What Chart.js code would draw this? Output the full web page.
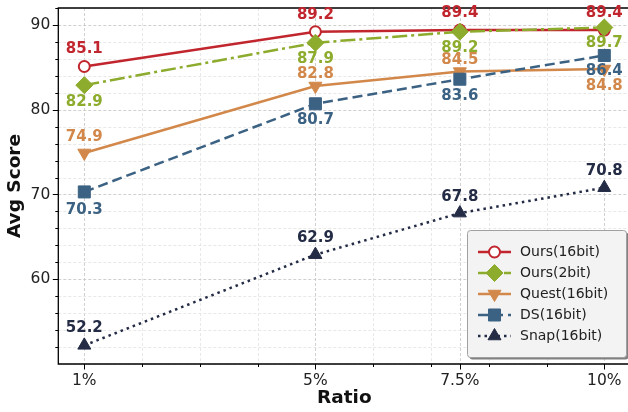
<!DOCTYPE html>
<html>
<head>
<meta charset="utf-8">
<script src="https://cdn.jsdelivr.net/npm/chart.js@4.4.1/dist/chart.umd.min.js"></script>
<style>
  html, body { margin: 0; padding: 0; background: #fff; overflow: hidden; }
  #wrap { width: 632px; height: 412px; position: relative; }
</style>
</head>
<body>
<div id="wrap"><canvas id="chart"></canvas></div>
<script>
// data
const ratios = [1, 5, 7.5, 10];
const xTickLabels = ["1%", "5%", "7.5%", "10%"];
const yTickLabels = [60, 70, 80, 90];
const seriesNames = ["Ours(16bit)", "Ours(2bit)", "Quest(16bit)", "DS(16bit)", "Snap(16bit)"];
const ours16 = [85.1, 89.2, 89.4, 89.4];
const ours2 = [82.9, 87.9, 89.2, 89.7];
const quest16 = [74.9, 82.8, 84.5, 84.8];
const ds16 = [70.3, 80.7, 83.6, 86.4];
const snap16 = [52.2, 62.9, 67.8, 70.8];

// style
const colors = ["#c1262e", "#8dab2c", "#d2884a", "#3c6283", "#232b45"];
const labelDy = [
  [-17, -17, -17, -17],
  [17, 16, 16, 16],
  [-16, -12, -11, 17],
  [18, 16, 17, 16],
  [-17, -17, -16, -17]
];
const FONT = "'DejaVu Sans', Verdana, sans-serif";

const xy = vals => ratios.map((r, i) => ({ x: r, y: vals[i] }));

function makeSet(i, vals, extra) {
  return Object.assign({
    label: seriesNames[i],
    data: xy(vals),
    borderColor: colors[i],
    backgroundColor: colors[i],
    pointBackgroundColor: colors[i],
    pointBorderColor: colors[i],
    borderWidth: 2.5,
    pointBorderWidth: 1,
    tension: 0,
    clip: false,
    order: 5 - i
  }, extra);
}

const datasets = [
  makeSet(0, ours16, { pointStyle: "circle", pointRadius: 5.5, pointBorderWidth: 2, pointBackgroundColor: "#fff" }),
  makeSet(1, ours2, { pointStyle: "rectRot", pointRadius: 8.5, borderDash: [15, 4, 3, 4] }),
  makeSet(2, quest16, { pointStyle: "triangle", pointRotation: 180, pointRadius: 7.5 }),
  makeSet(3, ds16, { pointStyle: "rect", pointRadius: 8.5, borderDash: [10, 5] }),
  makeSet(4, snap16, { pointStyle: "triangle", pointRadius: 7.5, borderDash: [2.5, 4] })
];

const noPad = s => { s.paddingTop = 0; s.paddingBottom = 0; s.paddingLeft = 0; s.paddingRight = 0; };

// grid, ticks, spines
const framePlugin = {
  id: "frame",
  beforeDatasetsDraw(chart) {
    const { ctx, chartArea: a, scales: { x, y } } = chart;
    ctx.save();
    ctx.lineWidth = 0.8;
    ctx.setLineDash([3, 2]);
    x.ticks.forEach(t => {
      const px = Math.round(x.getPixelForValue(t.value)) + 0.5;
      ctx.strokeStyle = ratios.includes(t.value) ? "#c4c4c4" : "#e2e2e2";
      ctx.beginPath(); ctx.moveTo(px, a.top); ctx.lineTo(px, a.bottom); ctx.stroke();
    });
    y.ticks.forEach(t => {
      const py = Math.round(y.getPixelForValue(t.value)) + 0.5;
      ctx.strokeStyle = yTickLabels.includes(t.value) ? "#c4c4c4" : "#e2e2e2";
      ctx.beginPath(); ctx.moveTo(a.left, py); ctx.lineTo(a.right, py); ctx.stroke();
    });
    ctx.setLineDash([]);
    ctx.strokeStyle = "#000";
    ctx.lineWidth = 1;
    x.ticks.forEach(t => {
      const px = Math.round(x.getPixelForValue(t.value)) + 0.5;
      const len = ratios.includes(t.value) ? 5.5 : 3;
      ctx.beginPath(); ctx.moveTo(px, a.bottom); ctx.lineTo(px, a.bottom + len); ctx.stroke();
    });
    y.ticks.forEach(t => {
      if (t.value === 50) return;
      const py = Math.round(y.getPixelForValue(t.value)) + 0.5;
      const len = yTickLabels.includes(t.value) ? 5.5 : 3;
      ctx.beginPath(); ctx.moveTo(a.left - len, py); ctx.lineTo(a.left, py); ctx.stroke();
    });
    ctx.lineWidth = 1.3;
    ctx.beginPath();
    ctx.moveTo(a.right + 2, a.top);
    ctx.lineTo(a.left, a.top);
    ctx.lineTo(a.left, a.bottom);
    ctx.lineTo(a.right + 2, a.bottom);
    ctx.stroke();
    ctx.restore();
  }
};

// value labels next to each marker
const valuePlugin = {
  id: "values",
  afterDatasetsDraw(chart) {
    const ctx = chart.ctx;
    ctx.save();
    ctx.font = "bold 15px " + FONT;
    ctx.textAlign = "center";
    ctx.textBaseline = "middle";
    chart.data.datasets.forEach((ds, i) => {
      const meta = chart.getDatasetMeta(i);
      meta.data.forEach((pt, j) => {
        ctx.fillStyle = colors[i];
        ctx.fillText(ds.data[j].y.toFixed(1), pt.x, pt.y + labelDy[i][j]);
      });
    });
    ctx.restore();
  }
};

// legend box inside the plot
const legendPlugin = {
  id: "boxLegend",
  afterDraw(chart) {
    const ctx = chart.ctx;
    const bx = 467, by = 230, bw = 159, bh = 127;
    ctx.save();
    ctx.fillStyle = "#808080";
    ctx.beginPath(); ctx.roundRect(bx + 2.5, by + 2.5, bw, bh, 3); ctx.fill();
    ctx.fillStyle = "#f3f3f3";
    ctx.strokeStyle = "#a0a0a0";
    ctx.lineWidth = 1;
    ctx.beginPath(); ctx.roundRect(bx + 0.5, by + 0.5, bw, bh, 3); ctx.fill(); ctx.stroke();
    chart.data.datasets.forEach((ds, i) => {
      const ry = 252 + i * 21;
      ctx.strokeStyle = colors[i];
      ctx.lineWidth = ds.borderWidth;
      ctx.setLineDash(ds.borderDash || []);
      ctx.beginPath(); ctx.moveTo(478, ry); ctx.lineTo(511, ry); ctx.stroke();
      ctx.setLineDash([]);
      ctx.fillStyle = ds.pointBackgroundColor;
      ctx.strokeStyle = ds.pointBorderColor;
      ctx.lineWidth = ds.pointBorderWidth;
      Chart.helpers.drawPoint(ctx, {
        pointStyle: ds.pointStyle,
        radius: ds.pointRadius,
        rotation: ds.pointRotation || 0,
        borderWidth: ds.pointBorderWidth
      }, 494.5, ry);
      ctx.fillStyle = "#222";
      ctx.font = "14px " + FONT;
      ctx.textAlign = "left";
      ctx.textBaseline = "middle";
      ctx.fillText(seriesNames[i], 520, ry);
    });
    ctx.restore();
  }
};

new Chart(document.getElementById("chart"), {
  type: "line",
  data: { datasets },
  options: {
    responsive: true,
    maintainAspectRatio: false,
    animation: false,
    layout: { autoPadding: false, padding: { top: 8, right: 1.7, left: 0, bottom: 0 } },
    plugins: { legend: { display: false }, tooltip: { enabled: false } },
    scales: {
      x: {
        type: "linear",
        min: 0.55,
        max: 10.45,
        afterBuildTicks: s => {
          s.ticks = [1, 2, 3, 4, 5, 6, 7, 7.5, 8, 9, 10].map(v => ({ value: v }));
        },
        afterFit: s => { s.height = 48; noPad(s); },
        grid: { display: false, drawTicks: false },
        border: { display: false },
        ticks: {
          autoSkip: false,
          maxRotation: 0,
          padding: 8,
          color: "#222",
          font: { family: FONT, size: 15.5 },
          callback: v => {
            const k = ratios.indexOf(v);
            return k >= 0 ? xTickLabels[k] : "";
          }
        },
        title: {
          display: true,
          text: "Ratio",
          color: "#111",
          font: { family: FONT, size: 18.5, weight: "bold" },
          padding: { top: 0, bottom: 3 }
        }
      },
      y: {
        min: 50,
        max: 92,
        afterBuildTicks: s => {
          const t = [];
          for (let v = 50; v <= 92; v += 2) t.push({ value: v });
          s.ticks = t;
        },
        afterFit: s => { s.width = 58.3; noPad(s); },
        grid: { display: false, drawTicks: false },
        border: { display: false },
        ticks: {
          autoSkip: false,
          padding: 8,
          color: "#222",
          font: { family: FONT, size: 15.5 },
          callback: v => (yTickLabels.includes(v) ? String(v) : "")
        },
        title: {
          display: true,
          text: "Avg Score",
          color: "#111",
          font: { family: FONT, size: 18.5, weight: "bold" },
          padding: { top: 4, bottom: 0 }
        }
      }
    }
  },
  plugins: [framePlugin, valuePlugin, legendPlugin]
});
</script>
</body>
</html>
